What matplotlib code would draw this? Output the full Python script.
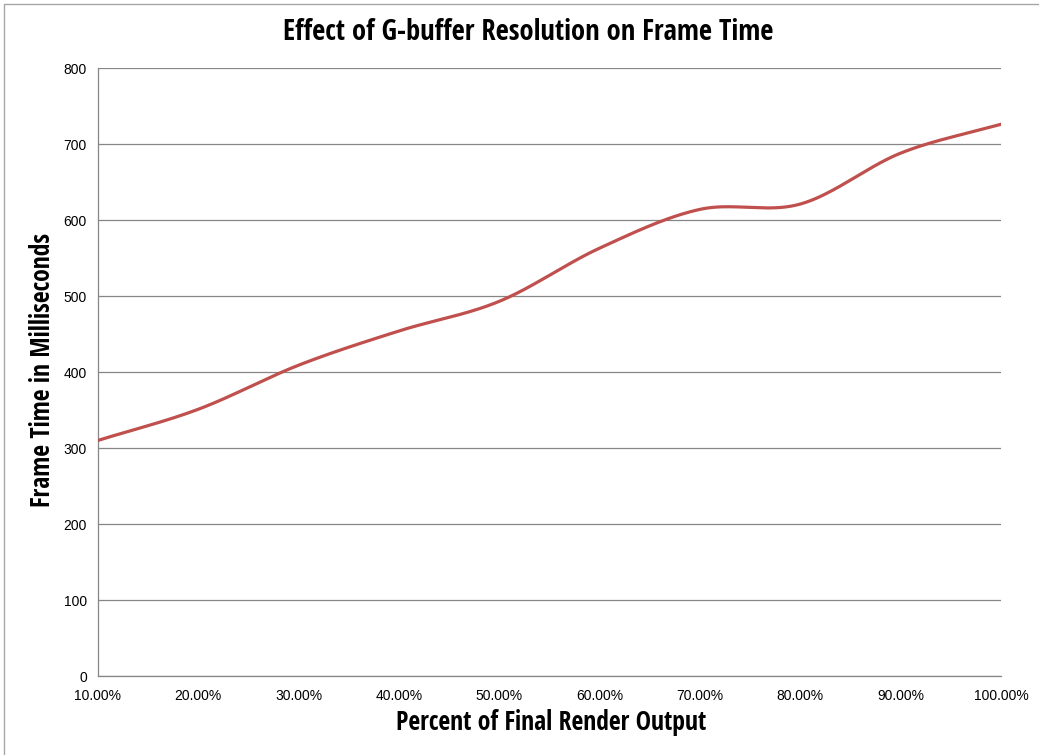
"""Frame time vs. G-buffer resolution, drawn as a smoothed line chart."""
import numpy as np
import matplotlib
matplotlib.use("Agg")
import matplotlib.pyplot as plt
from matplotlib.patches import Rectangle
from matplotlib import font_manager as fm

# prefer a narrow face for the headings if one is installed, otherwise DejaVu Sans
_names = {f.name for f in fm.fontManager.ttflist}
_narrow = [n for n in ("Liberation Sans Narrow", "Open Sans Condensed", "Roboto Condensed",
                       "DejaVu Sans Condensed") if n in _names]
HEAD_FONT = _narrow + ["DejaVu Sans"]
TICK_FONT = ["Liberation Sans", "DejaVu Sans"]
plt.rcParams["font.stretch"] = "condensed"

# ---- data ----
resolution_pct = [10, 20, 30, 40, 50, 60, 70, 80, 90, 100]
frame_time_ms = [310, 351, 409, 454, 493, 563, 614, 621, 688, 726]
x_tick_labels = [f"{p:.2f}%" for p in resolution_pct]
y_ticks = [0, 100, 200, 300, 400, 500, 600, 700, 800]

LINE_RED = "#C0504D"
GRID_GRAY = "#868686"


def smooth_curve(xs, ys, n=40):
    """Catmull-Rom style smoothing through every point (like a spreadsheet 'smoothed line')."""
    xs = np.asarray(xs, float)
    ys = np.asarray(ys, float)
    px = np.concatenate([[2 * xs[0] - xs[1]], xs, [2 * xs[-1] - xs[-2]]])
    py = np.concatenate([[2 * ys[0] - ys[1]], ys, [2 * ys[-1] - ys[-2]]])
    out_x, out_y = [], []
    t = np.linspace(0, 1, n, endpoint=False)
    for i in range(1, len(px) - 2):
        p0, p1, p2, p3 = (np.array([px[j], py[j]]) for j in (i - 1, i, i + 1, i + 2))
        c1 = p1 + (p2 - p0) / 6.0
        c2 = p2 - (p3 - p1) / 6.0
        tt = t[:, None]
        pts = ((1 - tt) ** 3) * p1 + 3 * ((1 - tt) ** 2) * tt * c1 \
            + 3 * (1 - tt) * tt ** 2 * c2 + tt ** 3 * p2
        out_x.extend(pts[:, 0]); out_y.extend(pts[:, 1])
    out_x.append(xs[-1]); out_y.append(ys[-1])
    return np.array(out_x), np.array(out_y)


fig = plt.figure(figsize=(10.39, 7.55), dpi=100)
ax = fig.add_axes([98 / 1039, 1 - 676 / 755, (1001 - 98) / 1039, (676 - 68) / 755])

# outer chart frame (runs off the right and bottom edges)
fig.patches.append(Rectangle((4 / 1039, -0.1), 1.2, 1 - 4 / 755 + 0.1,
                             transform=fig.transFigure, fill=False,
                             edgecolor="#A6A6A6", lw=1.0))

sx, sy = smooth_curve(resolution_pct, frame_time_ms)
ax.plot(sx, sy, color=LINE_RED, lw=2.3, solid_capstyle="round", zorder=3)

ax.set_xlim(resolution_pct[0], resolution_pct[-1])
ax.set_ylim(0, 800)
ax.set_xticks(resolution_pct)
ax.set_xticklabels(x_tick_labels, family=TICK_FONT, fontstretch="normal")
ax.set_yticks(y_ticks)
ax.set_yticklabels([str(v) for v in y_ticks], family=TICK_FONT, fontstretch="normal")
ax.tick_params(axis="both", length=0, labelsize=10, colors="black")
ax.tick_params(axis="x", pad=9)
ax.tick_params(axis="y", pad=8)
ax.yaxis.grid(True, color=GRID_GRAY, lw=0.9)
ax.set_axisbelow(True)
for side in ("top", "right"):
    ax.spines[side].set_visible(False)
for side in ("left", "bottom"):
    ax.spines[side].set_color(GRID_GRAY)
    ax.spines[side].set_linewidth(0.9)

ax.set_xlabel("Percent of Final Render Output", family=HEAD_FONT, fontsize=18.5,
              fontweight="bold", va="center")
ax.xaxis.set_label_coords(0.5017, -0.0773)
ax.set_ylabel("Frame Time in Milliseconds", family=HEAD_FONT, fontsize=18.5,
              fontweight="bold", va="center")
ax.yaxis.set_label_coords(-0.061, 0.503)
fig.text(528 / 1039, 1 - 33 / 755, "Effect of G-buffer Resolution on Frame Time",
         family=HEAD_FONT, ha="center", va="center", fontsize=20.5, fontweight="bold")

fig.savefig("out.png", dpi=100, facecolor="white")
